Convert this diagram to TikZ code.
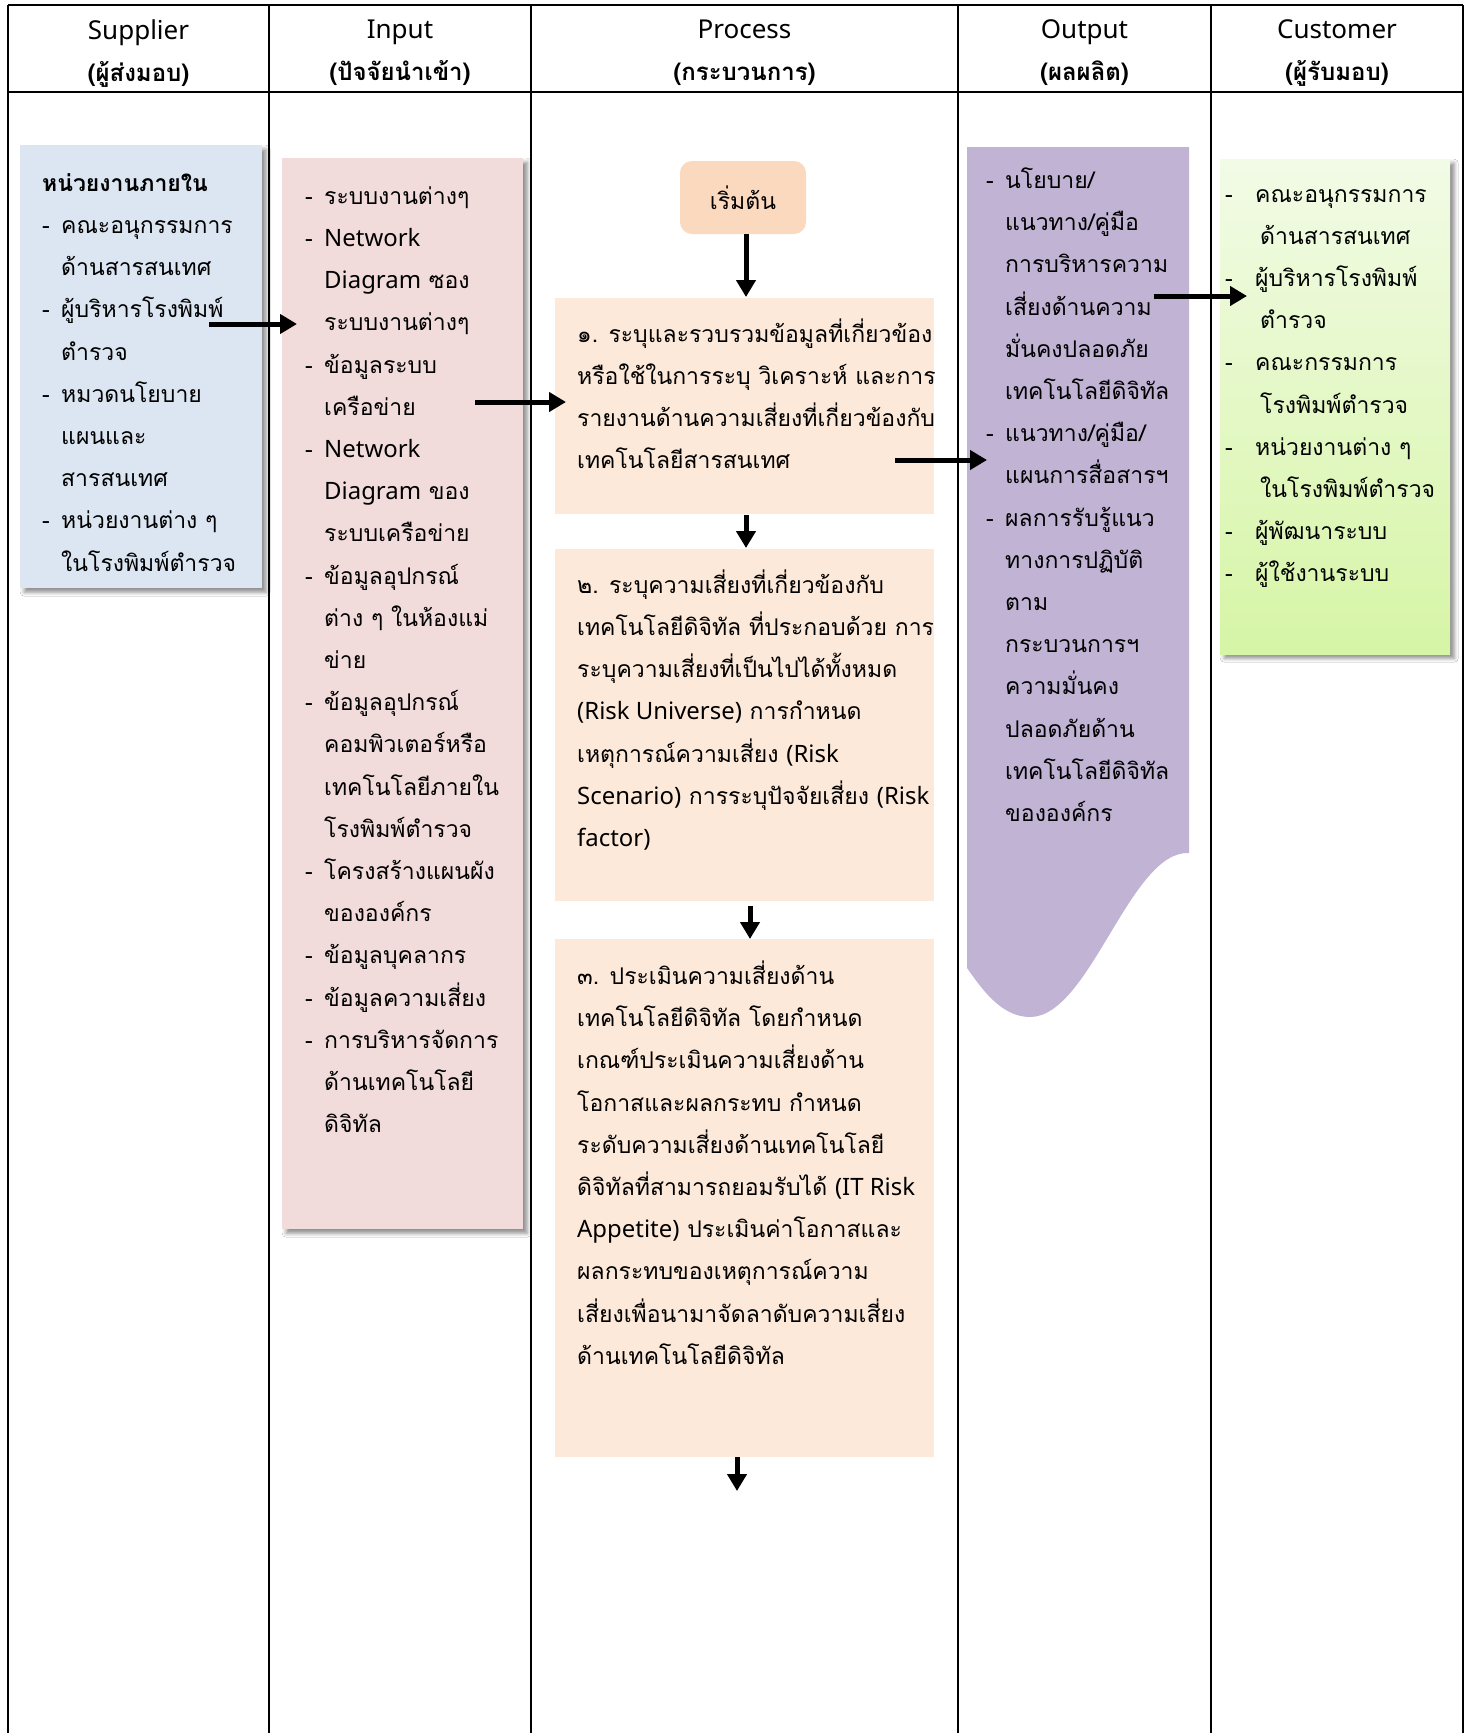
\documentclass[tikz,border=0pt]{standalone}
\usepackage{fontspec}
\setmainfont[Script=Thai]{Loma}
\newfontfamily\lat[Scale=1.04]{Noto Sans}
\usetikzlibrary{arrows.meta,shadows.blur,calc}
\definecolor{supblue}{HTML}{DCE6F2}
\definecolor{inpink}{HTML}{F2DCDB}
\definecolor{startor}{HTML}{FBD9BF}
\definecolor{procor}{HTML}{FDE9D9}
\definecolor{outpur}{HTML}{C0B3D4}
\definecolor{cusgtop}{HTML}{F2FBE6}
\definecolor{cusgbot}{HTML}{D6F5A6}
\newcommand\dsh{\makebox[19pt][l]{-}}
\newcommand\ind{\hspace*{19pt}}
\newcommand\cdsh{\makebox[30pt][l]{-}}
\newcommand\cind{\hspace*{35pt}}
\newcommand\hlat[1]{{\lat\fontsize{25}{42}\selectfont #1}}
\begin{document}
\begin{tikzpicture}[x=1pt,y=-1pt,
  tbl/.style={line width=2pt,black},
  body/.style={inner sep=0pt, anchor=north west, align=left, font=\fontsize{23}{42.2}\selectfont, execute at begin node=\strut},
  hdr/.style={inner sep=0pt, anchor=north, align=center, font=\fontsize{24}{42}\selectfont, execute at begin node=\strut},
  panel/.style={draw=none, inner sep=0pt, anchor=north west},
  shad/.style={blur shadow={shadow xshift=4pt, shadow yshift=-4pt, shadow blur radius=4pt, shadow opacity=45}},
  flow/.style={line width=5pt, -{Triangle[width=19pt,length=17pt]}}]
\useasboundingbox (0,0) rectangle (1470,1733);
\fill[white] (0,0) rectangle (1470,1733);

% table
\draw[tbl] (8,5) -- (1463,5);
\draw[tbl] (8,92) -- (1463,92);
\foreach \x in {8,269,531,958,1211,1463} \draw[tbl] (\x,5) -- (\x,1733);

% headers
\node[hdr] (hsup) at (138.5,19.6) {\hlat{Supplier}\\\textbf{(ผู้ส่งมอบ)}};
\node[hdr] (hin) at (400,19.6) {\hlat{Input}\\\textbf{(ปัจจัยนำเข้า)}};
\node[hdr] (hpro) at (744.5,19.6) {\hlat{Process}\\\textbf{(กระบวนการ)}};
\node[hdr] (hout) at (1084.5,19.6) {\hlat{Output}\\\textbf{(ผลผลิต)}};
\node[hdr] (hcus) at (1337,19.6) {\hlat{Customer}\\\textbf{(ผู้รับมอบ)}};

% panels
\node[panel, shad, fill=supblue, minimum width=242pt, minimum height=443pt] (sup) at (20,145) {};
\node[panel, shad, fill=inpink, minimum width=241pt, minimum height=1071pt] (inp) at (282,158) {};
\node[panel, shad, top color=cusgtop, bottom color=cusgbot, minimum width=230pt, minimum height=495pt] (cus) at (1220,159) {};
\node[panel, fill=procor, minimum width=379pt, minimum height=216pt] (p1) at (555,298) {};
\node[panel, fill=procor, minimum width=379pt, minimum height=352pt] (p2) at (555,549) {};
\node[panel, fill=procor, minimum width=379pt, minimum height=518pt] (p3) at (555,939) {};
\node[draw=none, fill=startor, rounded corners=12pt, minimum width=126pt, minimum height=73pt, inner sep=0pt,
  font=\fontsize{23}{42.2}\selectfont] (start) at (743,197.5) {เริ่มต้น};
\fill[outpur] (967,147) -- (1189,147) -- (1189,853)
  .. controls (1130,850) and (1090,1017) .. (1030,1017)
  .. controls (1000,1017) and (980,986) .. (967,968) -- cycle;

% texts
\node[body] (supt) at (42,173.2) {\textbf{หน่วยงานภายใน}\\
\dsh คณะอนุกรรมการ\\
\ind ด้านสารสนเทศ\\
\dsh ผู้บริหารโรงพิมพ์\\
\ind ตำรวจ\\
\dsh หมวดนโยบาย\\
\ind แผนและ\\
\ind สารสนเทศ\\
\dsh หน่วยงานต่าง ๆ\\
\ind ในโรงพิมพ์ตำรวจ};

\node[body] (inpt) at (305,186.2) {\dsh ระบบงานต่างๆ\\
\dsh {\lat Network}\\
\ind {\lat Diagram} ซอง\\
\ind ระบบงานต่างๆ\\
\dsh ข้อมูลระบบ\\
\ind เครือข่าย\\
\dsh {\lat Network}\\
\ind {\lat Diagram} ของ\\
\ind ระบบเครือข่าย\\
\dsh ข้อมูลอุปกรณ์\\
\ind ต่าง ๆ ในห้องแม่\\
\ind ข่าย\\
\dsh ข้อมูลอุปกรณ์\\
\ind คอมพิวเตอร์หรือ\\
\ind เทคโนโลยีภายใน\\
\ind โรงพิมพ์ตำรวจ\\
\dsh โครงสร้างแผนผัง\\
\ind ขององค์กร\\
\dsh ข้อมูลบุคลากร\\
\dsh ข้อมูลความเสี่ยง\\
\dsh การบริหารจัดการ\\
\ind ด้านเทคโนโลยี\\
\ind ดิจิทัล};

\node[body] (p1t) at (577,318.5) {๑. ระบุและรวบรวมข้อมูลที่เกี่ยวข้อง\\
หรือใช้ในการระบุ วิเคราะห์ และการ\\
รายงานด้านความเสี่ยงที่เกี่ยวข้องกับ\\
เทคโนโลยีสารสนเทศ};

\node[body] (p2t) at (577,569.5) {๒. ระบุความเสี่ยงที่เกี่ยวข้องกับ\\
เทคโนโลยีดิจิทัล ที่ประกอบด้วย การ\\
ระบุความเสี่ยงที่เป็นไปได้ทั้งหมด\\
{\lat (Risk Universe)} การกำหนด\\
เหตุการณ์ความเสี่ยง {\lat (Risk}\\
{\lat Scenario)} การระบุปัจจัยเสี่ยง {\lat (Risk}\\
{\lat factor)}};

\node[body] (p3t) at (577,960.6) {๓. ประเมินความเสี่ยงด้าน\\
เทคโนโลยีดิจิทัล โดยกำหนด\\
เกณฑ์ประเมินความเสี่ยงด้าน\\
โอกาสและผลกระทบ กำหนด\\
ระดับความเสี่ยงด้านเทคโนโลยี\\
ดิจิทัลที่สามารถยอมรับได้ {\lat (IT Risk}\\
{\lat Appetite)} ประเมินค่าโอกาสและ\\
ผลกระทบของเหตุการณ์ความ\\
เสี่ยงเพื่อนามาจัดลาดับความเสี่ยง\\
ด้านเทคโนโลยีดิจิทัล};

\node[body] (outt) at (986,167.5) {\dsh นโยบาย/\\
\ind แนวทาง/คู่มือ\\
\ind การบริหารความ\\
\ind เสี่ยงด้านความ\\
\ind มั่นคงปลอดภัย\\
\ind เทคโนโลยีดิจิทัล\\
\dsh แนวทาง/คู่มือ/\\
\ind แผนการสื่อสารฯ\\
\dsh ผลการรับรู้แนว\\
\ind ทางการปฏิบัติ\\
\ind ตาม\\
\ind กระบวนการฯ\\
\ind ความมั่นคง\\
\ind ปลอดภัยด้าน\\
\ind เทคโนโลยีดิจิทัล\\
\ind ขององค์กร};

\node[body] (cust) at (1225,189) {\cdsh คณะอนุกรรมการ\\
\cind ด้านสารสนเทศ\\
\cdsh ผู้บริหารโรงพิมพ์\\
\cind ตำรวจ\\
\cdsh คณะกรรมการ\\
\cind โรงพิมพ์ตำรวจ\\
\cdsh หน่วยงานต่าง ๆ\\
\cind ในโรงพิมพ์ตำรวจ\\
\cdsh ผู้พัฒนาระบบ\\
\cdsh ผู้ใช้งานระบบ};

% connectors
\coordinate (a1s) at (209,324); \coordinate (a1e) at (297,324);
\coordinate (a2s) at (475,402); \coordinate (a2e) at (566,402);
\coordinate (a3s) at (895,460); \coordinate (a3e) at (987,460);
\coordinate (a4s) at (1154,296); \coordinate (a4e) at (1247,296);
\coordinate (v1s) at (746,234); \coordinate (v1e) at (746,297);
\coordinate (v2s) at (746,515); \coordinate (v2e) at (746,548);
\coordinate (v3s) at (750,906); \coordinate (v3e) at (750,939);
\coordinate (v4s) at (737,1457); \coordinate (v4e) at (737,1491);
\draw[flow] (a1s) -- (a1e);
\draw[flow] (a2s) -- (a2e);
\draw[flow] (a3s) -- (a3e);
\draw[flow] (a4s) -- (a4e);
\draw[flow] (v1s) -- (v1e);
\draw[flow] (v2s) -- (v2e);
\draw[flow] (v3s) -- (v3e);
\draw[flow] (v4s) -- (v4e);
\end{tikzpicture}
\end{document}
